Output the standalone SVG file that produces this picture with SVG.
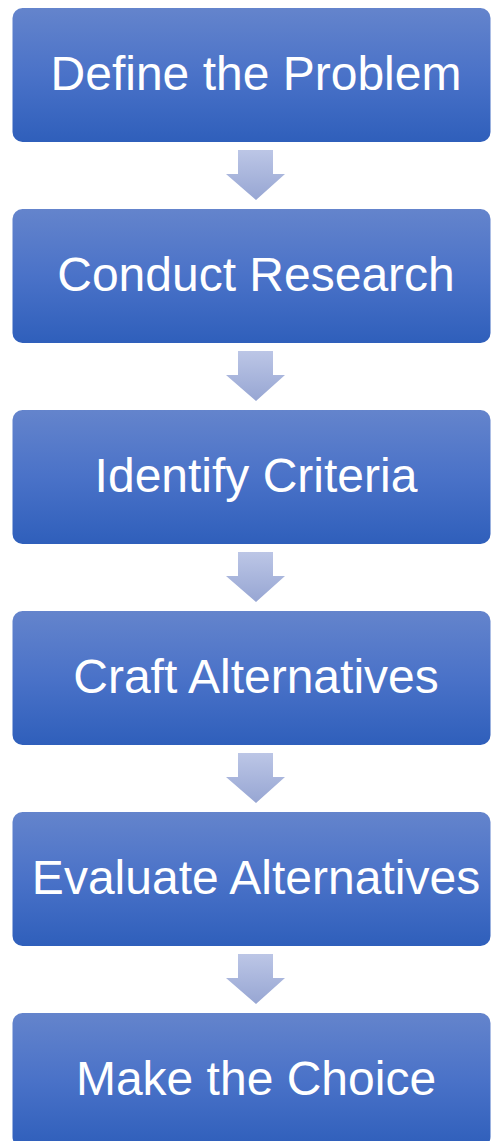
<svg xmlns="http://www.w3.org/2000/svg" width="491" height="1141" viewBox="0 0 491 1141">
  <defs>
    <linearGradient id="boxFill" x1="0" y1="0" x2="0" y2="1">
      <stop offset="0" stop-color="#6484cc"/>
      <stop offset="0.5" stop-color="#4a72c8"/>
      <stop offset="1" stop-color="#2f5fbb"/>
    </linearGradient>
    <linearGradient id="arrowFill" x1="0" y1="0" x2="0" y2="1">
      <stop offset="0" stop-color="#bcc6e6"/>
      <stop offset="1" stop-color="#97a6d3"/>
    </linearGradient>
    <path id="downArrow" d="M238,0 H273 V24 H285 L256,50 L226,24 H238 Z"/>
  </defs>
  <style>
    .box { fill: url(#boxFill); }
    .label { font-family: "Liberation Sans", Arial, sans-serif; font-size: 48px; fill: #ffffff; text-anchor: middle; }
    .arrow { fill: url(#arrowFill); }
  </style>
  <rect width="491" height="1141" fill="#ffffff"/>

  <g id="connectors">
    <use href="#downArrow" class="arrow" y="150"/>
    <use href="#downArrow" class="arrow" y="351"/>
    <use href="#downArrow" class="arrow" y="552"/>
    <use href="#downArrow" class="arrow" y="753"/>
    <use href="#downArrow" class="arrow" y="954"/>
  </g>

  <g id="define-problem">
    <rect class="box" x="12.5" y="8" width="478" height="134" rx="10"/>
    <text class="label" x="256" y="90">Define the Problem</text>
  </g>
  <g id="conduct-research">
    <rect class="box" x="12.5" y="209" width="478" height="134" rx="10"/>
    <text class="label" x="256" y="291">Conduct Research</text>
  </g>
  <g id="identify-criteria">
    <rect class="box" x="12.5" y="410" width="478" height="134" rx="10"/>
    <text class="label" x="256" y="492">Identify Criteria</text>
  </g>
  <g id="craft-alternatives">
    <rect class="box" x="12.5" y="611" width="478" height="134" rx="10"/>
    <text class="label" x="256" y="693">Craft Alternatives</text>
  </g>
  <g id="evaluate-alternatives">
    <rect class="box" x="12.5" y="812" width="478" height="134" rx="10"/>
    <text class="label" x="256" y="894">Evaluate Alternatives</text>
  </g>
  <g id="make-choice">
    <rect class="box" x="12.5" y="1013" width="478" height="134" rx="10"/>
    <text class="label" x="256" y="1095">Make the Choice</text>
  </g>
</svg>
